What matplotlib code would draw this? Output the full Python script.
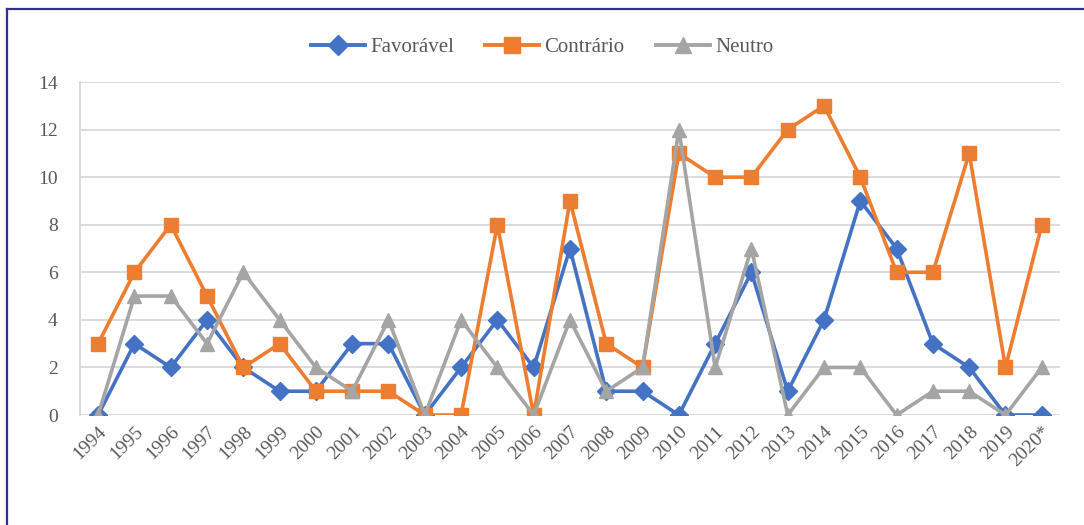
import numpy as np
import matplotlib
matplotlib.use("Agg")
import matplotlib.pyplot as plt
from matplotlib.lines import Line2D

# ------------------------------------ data
anos = ["1994", "1995", "1996", "1997", "1998", "1999", "2000", "2001",
        "2002", "2003", "2004", "2005", "2006", "2007", "2008", "2009",
        "2010", "2011", "2012", "2013", "2014", "2015", "2016", "2017",
        "2018", "2019", "2020*"]

favoravel = [0, 3, 2, 4, 2, 1, 1, 3, 3, 0, 2, 4, 2, 7, 1, 1,
             0, 3, 6, 1, 4, 9, 7, 3, 2, 0, 0]
contrario = [3, 6, 8, 5, 2, 3, 1, 1, 1, 0, 0, 8, 0, 9, 3, 2,
             11, 10, 10, 12, 13, 10, 6, 6, 11, 2, 8]
neutro = [0, 5, 5, 3, 6, 4, 2, 1, 4, 0, 4, 2, 0, 4, 1, 2,
          12, 2, 7, 0, 2, 2, 0, 1, 1, 0, 2]

series = [
    ("Favorável", favoravel, "#4472C4", "D", 9),
    ("Contrário", contrario, "#ED7D31", "s", 10),
    ("Neutro", neutro, "#A5A5A5", "^", 10),
]

plt.rcParams["font.family"] = ["Liberation Serif", "DejaVu Serif"]
txt = "#595959"

fig = plt.figure(figsize=(10.84, 5.25), dpi=100)
axi = fig.add_axes([0.0738, 0.2095, 0.904, 0.6343])

x = np.arange(len(anos))
for name, vals, col, mk, ms in series:
    axi.plot(x, vals, color=col, linewidth=2.6, marker=mk,
             markersize=ms, label=name, zorder=3)

axi.set_xlim(-0.5, len(anos) - 0.5)
axi.set_ylim(0, 14)
axi.set_yticks(np.arange(0, 15, 2))
axi.set_xticks(x)
axi.set_xticklabels(anos, rotation=45, ha="right", va="top",
                    rotation_mode="anchor")
axi.tick_params(axis="both", length=0, labelsize=14, colors=txt)
axi.tick_params(axis="y", pad=16)
axi.tick_params(axis="x", pad=6)

axi.grid(axis="y", color="#D9D9D9", linewidth=1.3, zorder=0)
axi.set_axisbelow(True)
for s in ["top", "right", "bottom"]:
    axi.spines[s].set_visible(False)
axi.spines["left"].set_color("#D9D9D9")
axi.spines["left"].set_linewidth(1.3)

handles = [Line2D([0], [0], color=c, linewidth=2.8, marker=m,
                  markersize=ms + 1) for _, _, c, m, ms in series]
fig.legend(handles, [s[0] for s in series], loc="center",
           bbox_to_anchor=(0.5, 0.91), ncol=3, frameon=False,
           fontsize=15, labelcolor=txt, handlelength=2.6,
           handletextpad=0.25, columnspacing=1.5)

# ------------------------------------ outer frame (top & left)
fig.add_artist(Line2D([0.006, 1.0], [0.983, 0.983], color="#2E3192",
                      linewidth=1.6, transform=fig.transFigure))
fig.add_artist(Line2D([0.0068, 0.0068], [0.0, 0.983], color="#2E3192",
                      linewidth=1.6, transform=fig.transFigure))

fig.savefig("out.png", dpi=100)
